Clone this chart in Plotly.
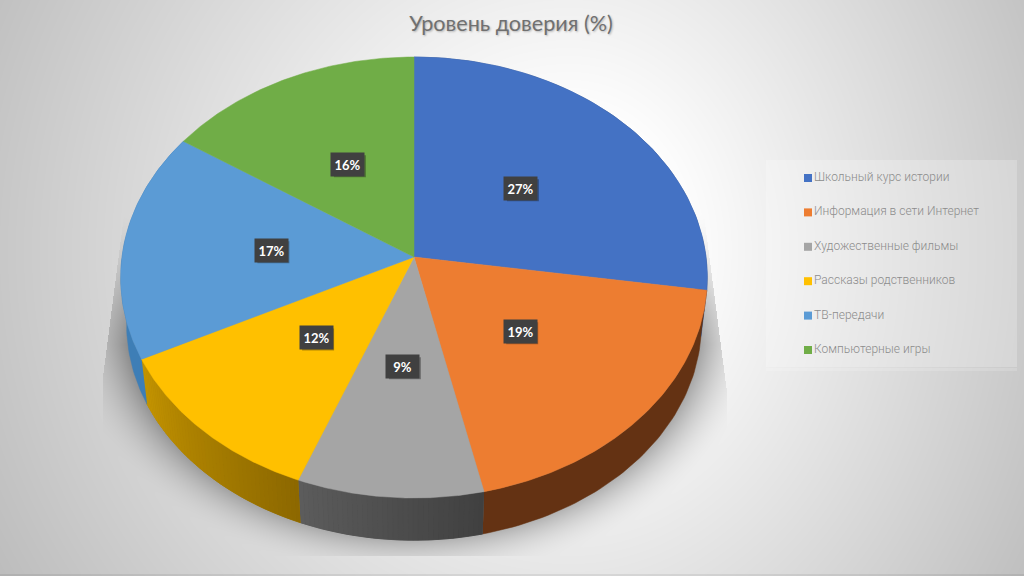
#!/usr/bin/env python
# coding: utf-8
import numpy as np
import plotly.graph_objects as go

# Data
categories = ['Школьный курс истории', 'Информация в сети Интернет', 'Художественные фильмы',
              'Рассказы родственников', 'ТВ-передачи', 'Компьютерные игры']
shares = [27.4, 19.1, 9.4, 11.7, 16.8, 15.6]
colors = ['#4472C4', '#ED7D31', '#A5A5A5', '#FFC000', '#5B9BD5', '#70AD47']
wall_start = ['#2f4f88', '#643213', '#404040', '#8c6800', '#3e7eb6', '#4e7a32']
wall_end = ['#2f4f88', '#643213', '#5c5c5c', '#c49400', '#3e7eb6', '#4e7a32']

W, H = 1024, 576
CX = 414
TOP_Y = 257     # pie apex on the top face
BOTTOM_Y = 304  # pie apex on the bottom face
RX, RY = 292, 218.6
PERSP = 0.093


def project(f, r=1.0, scale=1.0, apex_y=TOP_Y, persp=PERSP):
    # a point of the disc (fraction f clockwise from 12 o'clock) seen in perspective
    a = 2 * np.pi * np.asarray(f)
    u = r * np.sin(a)
    v = r * np.cos(a)
    w = 1 + persp * v
    return CX + scale * RX * u / w, apex_y - scale * RY * v / w


def hex_mix(c1, c2, t):
    a = [int(c1[i:i + 2], 16) for i in (1, 3, 5)]
    b = [int(c2[i:i + 2], 16) for i in (1, 3, 5)]
    return 'rgb(%d,%d,%d)' % tuple(round(p + (q - p) * t) for p, q in zip(a, b))


# Background: radial grey, the cast shadow and the legend panel
yy, xx = np.mgrid[0:H, 0:W] + 0.5
dist = np.hypot((xx - 570) * np.where(xx > 570, 1.2, 1.0), yy - 250)
bg = 255 - np.clip(dist - 130, 0, None) * 0.125

rho = np.hypot((xx - CX) / 302, (yy - 316) / 226)
shadow = np.clip((1.17 - rho) / 0.22, 0, 1) ** 2
shadow *= np.clip((yy - 215) / 130, 0, 1)
left = 123 - (yy - 223) * 0.13
right = 705 + (yy - 223) * 0.13
shadow[(xx < np.maximum(left, 103)) | (xx > np.minimum(right, 727)) | (yy > 556)] = 0
bg = bg * (1 - 0.36 * shadow)

panel = (xx > 766) & (xx < 1017) & (yy > 160) & (yy < 367)
bg[panel] += (255 - bg[panel]) * 0.22
band = (xx > 766) & (xx < 1017) & (yy > 368) & (yy < 371)
bg[band] += (255 - bg[band]) * 0.15
bg[574:] *= 0.93

fig = go.Figure()
fig.add_trace(go.Heatmap(z=bg.astype(np.uint8), x0=0.5, dx=1, y0=0.5, dy=1, zmin=0, zmax=255,
                         colorscale=[[0, '#000000'], [1, '#ffffff']], showscale=False,
                         hoverinfo='skip'))

edges = np.concatenate([[0], np.cumsum(shares)]) / np.sum(shares)

# Side wall: a flat piece per slice, then thin strips where it shades along the rim
for i in range(len(shares)):
    if edges[i + 1] < 0.25 or edges[i] > 0.75:
        continue
    fs = np.linspace(edges[i], edges[i + 1], 60)
    x1, y1 = project(fs)
    x2, y2 = project(fs[::-1], scale=0.98, apex_y=BOTTOM_Y)
    col = hex_mix(wall_start[i], wall_end[i], 0.5)
    fig.add_trace(go.Scatter(x=np.concatenate([x1, x2]), y=np.concatenate([y1, y2]),
                             mode='lines', fill='toself', fillcolor=col, line={'color': col, 'width': 0.5},
                             hoverinfo='skip', showlegend=False))
    if wall_start[i] == wall_end[i]:
        continue
    n = max(int((edges[i + 1] - edges[i]) * 400), 1)
    cuts = np.linspace(edges[i], edges[i + 1], n + 1)
    for k in range(n):
        fs = np.linspace(cuts[k], cuts[k + 1], 4)
        x1, y1 = project(fs)
        x2, y2 = project(fs[::-1], scale=0.98, apex_y=BOTTOM_Y)
        col = hex_mix(wall_start[i], wall_end[i], (k + 0.5) / n)
        fig.add_trace(go.Scatter(x=np.concatenate([x1, x2]), y=np.concatenate([y1, y2]),
                                 mode='lines', fill='toself', fillcolor=col,
                                 line={'color': col, 'width': 0.8},
                                 hoverinfo='skip', showlegend=False))

# Top face
for i in range(len(shares)):
    fs = np.linspace(edges[i], edges[i + 1], 120)
    x, y = project(fs)
    fig.add_trace(go.Scatter(x=np.concatenate([[CX], x, [CX]]), y=np.concatenate([[TOP_Y], y, [TOP_Y]]),
                             mode='lines', fill='toself', fillcolor=colors[i],
                             line={'color': colors[i], 'width': 0.5},
                             name=categories[i], hoverinfo='name', showlegend=False))

# Legend, spaced the way the reference spaces it
for i, name in enumerate(categories):
    fig.add_trace(go.Scatter(x=[808], y=[178 + 34.4 * i], mode='markers+text', text=[name],
                             textposition='middle right',
                             textfont={'family': 'Roboto', 'size': 12, 'color': '#8c8c8c', 'weight': 300},
                             marker={'symbol': 'square', 'size': 8, 'color': colors[i]},
                             hoverinfo='skip', showlegend=False))

# Data labels with a small drop shadow
annotations = []
shapes = []
for i in range(len(shares)):
    lx, ly = project((edges[i] + edges[i + 1]) / 2, r=0.49, persp=0.045)
    shapes.append(dict(type='rect', x0=lx - 14, x1=lx + 18, y0=ly - 9, y1=ly + 13, layer='above',
                       fillcolor='rgba(0,0,0,0.3)', line={'width': 0}))
    annotations.append(dict(x=lx, y=ly, text='%d%%' % round(shares[i]), showarrow=False, width=31, height=21,
                            bgcolor='#404040', font={'family': 'Lato', 'size': 13, 'color': '#ffffff', 'weight': 700}))

fig.update_layout(
    width=W, height=H,
    margin={'l': 0, 'r': 0, 't': 0, 'b': 0},
    title={'text': 'Уровень доверия (%)', 'x': 0.499, 'xanchor': 'center', 'y': 0.96, 'yanchor': 'middle',
           'font': {'family': 'Lato', 'size': 21.6, 'color': '#707070', 'shadow': '1px 1px 2px rgba(0,0,0,0.25)'}},
    xaxis={'range': [0, W], 'visible': False, 'fixedrange': True},
    yaxis={'range': [H, 0], 'visible': False, 'fixedrange': True},
    annotations=annotations,
    shapes=shapes,
    paper_bgcolor='#ffffff', plot_bgcolor='#ffffff',
)

fig.write_html('out.html', config={'displayModeBar': False},
               post_script="document.body.style.margin='0';document.body.style.overflow='hidden';")
